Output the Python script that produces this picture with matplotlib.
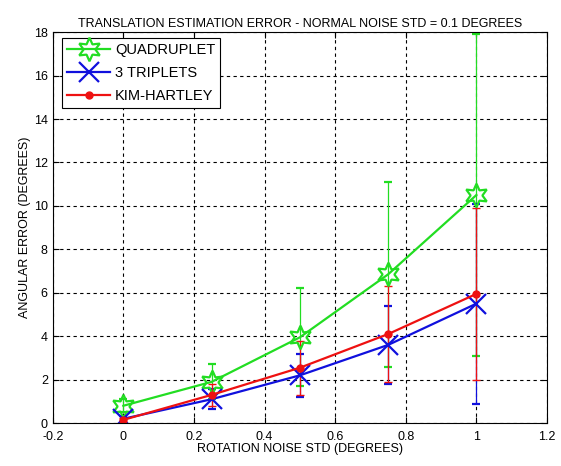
import matplotlib
matplotlib.use('Agg')
import matplotlib.pyplot as plt

plt.rcParams['font.family'] = ['Liberation Sans', 'DejaVu Sans']

rot_noise = [0, 0.25, 0.5, 0.75, 1.0]
quad_mean = [0.8, 1.9, 3.95, 6.85, 10.5]
quad_std = [0.3, 0.8, 2.25, 4.25, 7.4]
trip_mean = [0.2, 1.1, 2.2, 3.6, 5.5]
trip_std = [0.15, 0.45, 1.0, 1.8, 4.6]
kh_mean = [0.15, 1.3, 2.55, 4.1, 5.95]
kh_std = [0.1, 0.5, 1.25, 2.2, 3.95]
labels = ['QUADRUPLET', '3 TRIPLETS', 'KIM-HARTLEY']

fig = plt.figure(figsize=(5.61, 4.66), dpi=100)
ax = fig.add_axes([0.094, 0.092, 0.881, 0.839])

q = ax.errorbar(rot_noise, quad_mean, yerr=quad_std, color='#22dd22', lw=1.6,
                elinewidth=0.9, capsize=3, marker=(6, 1, 0), ms=17, mfc='none',
                mew=1.6)
t = ax.errorbar(rot_noise, trip_mean, yerr=trip_std, color='#1010dd', lw=1.6,
                elinewidth=0.9, capsize=3, marker='x', ms=15, mew=1.6)
k = ax.errorbar(rot_noise, kh_mean, yerr=kh_std, color='#ee1111', lw=1.6,
                elinewidth=0.9, capsize=3, marker='o', ms=5)

ax.set_xlim(-0.2, 1.2)
ax.set_ylim(0, 18)
ax.set_xticks([-0.2, 0, 0.2, 0.4, 0.6, 0.8, 1, 1.2])
ax.set_xticklabels(['-0.2', '0', '0.2', '0.4', '0.6', '0.8', '1', '1.2'])
ax.set_yticks(range(0, 19, 2))
ax.tick_params(direction='in', labelsize=9, top=True, right=True, length=4)
ax.tick_params(axis='x', pad=6)
ax.grid(True, color='black', linestyle=(0, (3, 3)), linewidth=0.8)

ax.set_title('TRANSLATION ESTIMATION ERROR - NORMAL NOISE STD = 0.1 DEGREES',
             fontsize=9, pad=4)
ax.set_xlabel('ROTATION NOISE STD (DEGREES)', fontsize=9, labelpad=0)
ax.set_ylabel('ANGULAR ERROR (DEGREES)', fontsize=9, labelpad=2)

leg = ax.legend([q.lines[0], t.lines[0], k.lines[0]], labels,
                loc='upper left', fontsize=10.5, fancybox=False, framealpha=1,
                edgecolor='black', bbox_to_anchor=(0.018, 0.985),
                borderaxespad=0, handlelength=3.0, numpoints=1,
                labelspacing=0.6, handletextpad=0.3, borderpad=0.35)
leg.get_frame().set_linewidth(0.8)

fig.savefig('out.png', dpi=100)
